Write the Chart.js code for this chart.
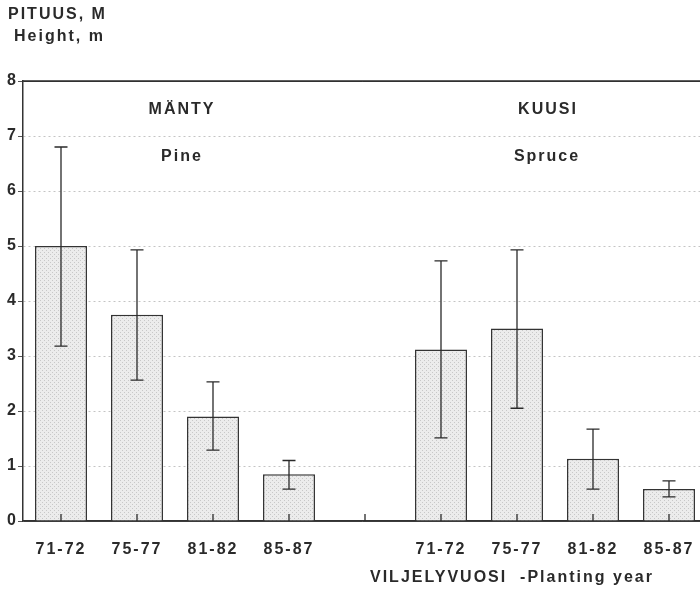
<!DOCTYPE html>
<html>
<head>
<meta charset="utf-8">
<script src="https://cdn.jsdelivr.net/npm/chart.js@4"></script>
<style>
  html, body { margin: 0; padding: 0; background: #fff; }
  canvas { display: block; }
</style>
</head>
<body>
<canvas id="heightChart" width="700" height="590"></canvas>
<script>
(function () {
  "use strict";

  // Planting year classes (same for both species)
  var yearLabels = ["71-72", "75-77", "81-82", "85-87"];

  // Mean height, m, and the range shown by the error bars
  var pineHeight = [5.0, 3.75, 1.9, 0.85];
  var pineLow = [3.18, 2.56, 1.29, 0.58];
  var pineHigh = [6.8, 4.93, 2.53, 1.1];

  var spruceHeight = [3.12, 3.5, 1.13, 0.58];
  var spruceLow = [1.51, 2.05, 0.58, 0.44];
  var spruceHigh = [4.73, 4.93, 1.67, 0.73];

  var yTicks = [0, 1, 2, 3, 4, 5, 6, 7, 8];

  // one category axis: pine group, an empty slot, spruce group
  var labels = yearLabels.concat([""], yearLabels);
  var heights = pineHeight.concat([null], spruceHeight);
  var lows = pineLow.concat([null], spruceLow);
  var highs = pineHigh.concat([null], spruceHigh);

  var ink = "#2a2a2a";
  var font = "'Liberation Sans', Arial, sans-serif";

  // light stippled fill for the bars
  function stipple(ctx) {
    var tile = document.createElement("canvas");
    tile.width = 4;
    tile.height = 4;
    var t = tile.getContext("2d");
    t.fillStyle = "#ececec";
    t.fillRect(0, 0, 4, 4);
    t.fillStyle = "#c8c8c8";
    t.fillRect(0, 0, 1, 1);
    t.fillRect(2, 2, 1, 1);
    return ctx.createPattern(tile, "repeat");
  }

  var decorations = {
    id: "decorations",
    // the plot runs a little past the right edge of the page
    afterLayout: function (chart) {
      var x = chart.scales.x;
      var extra = 7;
      chart.chartArea.right += extra;
      chart.chartArea.width += extra;
      x.right += extra;
      x.width += extra;
      x.configure();
    },
    beforeDraw: function (chart) {
      chart.ctx.letterSpacing = "2px";
    },
    afterDatasetsDraw: function (chart) {
      var ctx = chart.ctx;
      var x = chart.scales.x;
      var y = chart.scales.y;
      ctx.save();
      ctx.strokeStyle = ink;
      ctx.lineWidth = 1.3;
      for (var i = 0; i < labels.length; i++) {
        if (lows[i] == null) continue;
        var px = x.getPixelForValue(i);
        var lo = y.getPixelForValue(lows[i]);
        var hi = y.getPixelForValue(highs[i]);
        ctx.beginPath();
        ctx.moveTo(px, lo);
        ctx.lineTo(px, hi);
        ctx.moveTo(px - 6.5, lo);
        ctx.lineTo(px + 6.5, lo);
        ctx.moveTo(px - 6.5, hi);
        ctx.lineTo(px + 6.5, hi);
        ctx.stroke();
      }
      ctx.restore();
    },
    afterDraw: function (chart) {
      var ctx = chart.ctx;
      var x = chart.scales.x;
      var y = chart.scales.y;
      var area = chart.chartArea;
      ctx.save();
      ctx.letterSpacing = "2px";

      // small upward ticks at each category
      ctx.strokeStyle = ink;
      ctx.lineWidth = 1.3;
      ctx.beginPath();
      for (var i = 0; i < labels.length; i++) {
        var px = x.getPixelForValue(i);
        ctx.moveTo(px, area.bottom);
        ctx.lineTo(px, area.bottom - 7);
      }
      ctx.stroke();

      // solid frame line at the top value
      ctx.lineWidth = 1.5;
      ctx.beginPath();
      ctx.moveTo(area.left, y.getPixelForValue(8));
      ctx.lineTo(area.right, y.getPixelForValue(8));
      ctx.stroke();

      ctx.fillStyle = ink;
      ctx.font = "bold 16px " + font;
      ctx.textBaseline = "middle";
      ctx.textAlign = "left";
      ctx.fillText("PITUUS, M", 8, 15);
      ctx.fillText("Height, m", 14, 37);
      ctx.fillText("VILJELYVUOSI  -Planting year", 370, 578);

      ctx.textAlign = "center";
      ctx.fillText("MÄNTY", 182, 110);
      ctx.fillText("Pine", 182, 157);
      ctx.fillText("KUUSI", 548, 110);
      ctx.fillText("Spruce", 547, 157);
      ctx.restore();
    }
  };

  var canvas = document.getElementById("heightChart");
  var ctx = canvas.getContext("2d");

  new Chart(ctx, {
    type: "bar",
    data: {
      labels: labels,
      datasets: [
        {
          label: "Height",
          data: heights,
          backgroundColor: stipple(ctx),
          borderColor: "#333",
          borderWidth: 1.5,
          categoryPercentage: 1,
          barPercentage: 0.684,
        },
      ],
    },
    options: {
      responsive: false,
      animation: false,
      layout: { padding: { top: 81, left: 0, right: 0, bottom: 0 } },
      plugins: {
        legend: { display: false },
        tooltip: { enabled: false },
      },
      scales: {
        x: {
          grid: { display: false },
          border: { display: true, color: "#333", width: 1.5 },
          ticks: {
            color: ink,
            font: { family: font, size: 16, weight: "bold" },
            padding: 11,
            maxRotation: 0,
            autoSkip: false,
          },
          afterFit: function (scale) { scale.height = 69; },
        },
        y: {
          min: 0,
          max: 8,
          afterBuildTicks: function (scale) {
            scale.ticks = yTicks.map(function (v) { return { value: v }; });
          },
          grid: {
            color: function (c) {
              return c.tick && (c.tick.value === 0 || c.tick.value === 8) ? "#444" : "#c4c4c4";
            },
            lineWidth: 1,
            tickLength: 5,
            tickColor: "#555",
            tickBorderDash: [],
          },
          border: {
            display: true,
            color: "#333",
            width: 1.5,
            dash: function (c) {
              return c.tick && c.tick.value > 0 && c.tick.value < 8 ? [2, 3] : [];
            },
          },
          ticks: {
            color: ink,
            font: { family: font, size: 16, weight: "bold" },
            padding: 0,
          },
          afterFit: function (scale) { scale.width = 23; },
        },
      },
    },
    plugins: [decorations],
  });
})();
</script>
</body>
</html>
